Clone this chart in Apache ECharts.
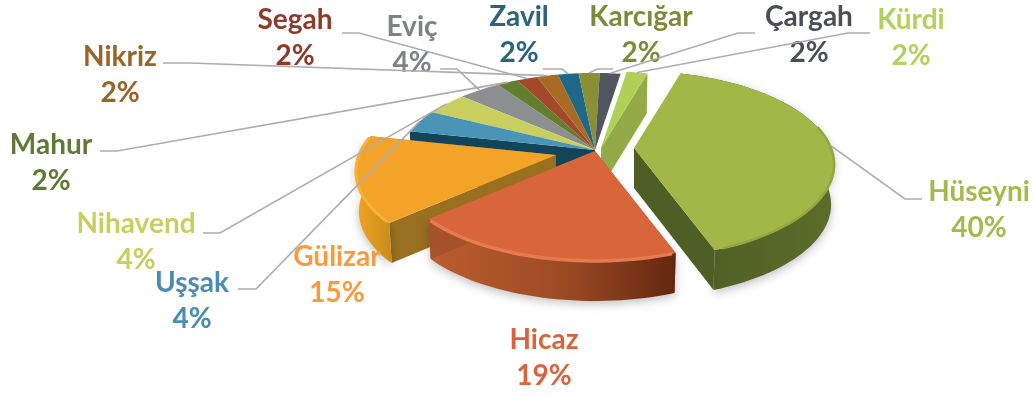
<!DOCTYPE html>
<html><head><meta charset="utf-8">
<script src="https://cdn.jsdelivr.net/npm/echarts@6/dist/echarts.min.js"></script>
<style>html,body{margin:0;padding:0;background:#fff}#c{width:1035px;height:397px;filter:blur(.6px)}</style>
</head><body><div id="c"></div>
<script>
// ---- data (clockwise from the first slice) ----
const categories = ['Hüseyni','Hicaz','Gülizar','Uşşak','Nihavend','Eviç','Mahur','Segah','Nikriz','Zavil','Karcığar','Çargah','Kürdi'];
const values = [40,19,15,4,4,4,2,2,2,2,2,2,2];
// ---- colours ----
const topColors  = ['#a3b748','#d9663a','#f3a327','#4a94b7','#c9cf5e','#8c8e90','#647e30','#a3482a','#a96b22','#1f6887','#8a8f34','#50565e','#b0d156'];
const wallColors = ['#4f5e24','#a5522b','#99701f','#134559','#8c9040','#5c5e60','#445620','#6e3018','#754a16','#123f52','#5e6222','#35393f','#93aa46'];
const labelColors= ['#a5b94c','#d9623f','#f89b3c','#4a8db0','#c6cf60','#7f8285','#5f7a34','#8e3a2b','#9a6428','#2a6480','#7f8a38','#4a4f57','#b2d25c'];
// ---- layout ----
const CX=595, CY=150, R=197, RY=90.6, PERSP=0.176, DEPTH=40, START=16;
const explode = {0:[39,-2],1:[0,1],2:[-39,5],12:[6,-2]};
const drawOrder = [5,6,7,8,9,10,11,4,3,12,2,1,0];
const radialWalls = {0:[1],1:[0,1],2:[0,1],3:[0],12:[1]};
const labelPos = {0:[979,210],1:[544,358],2:[337,275],3:[192,301],4:[136,242],5:[412,45],6:[51,163],7:[295,38],8:[120,75],9:[519,35],10:[641,35],11:[809,35],12:[911,38]};
const leaders = {0:[[922,199],[905,199]],3:[[238,289],[256,289]],4:[[203,233],[220,233]],5:[[440,69],[457,69]],6:[[100,151],[117,151]],
  7:[[342,33],[359,33]],8:[[163,63],[190,63]],9:[[543,69],[562,69]],10:[[613,69],[597,69]],11:[[755,33],[738,33]],12:[[870,33],[848,33]]};

const total = values.reduce((a,b)=>a+b,0);
const angles = []; { let a=START; values.forEach(v=>{const e=a+v/total*360;angles.push([a,e]);a=e;}); }
const rad = d=>d*Math.PI/180;
function proj(i,r,deg,z){
  const x=r*Math.sin(rad(deg)), y=-r*Math.cos(rad(deg)), s=1/(1-PERSP*y), o=explode[i]||[0,0];
  const k = z?0.985:1;
  return [CX+o[0]+R*x*s*k, CY+o[1]+RY*y*s+(z?DEPTH:0)];
}
function arc(i,r,a,b,z){ const p=[],n=Math.max(2,Math.ceil(Math.abs(b-a)/2)); for(let t=0;t<=n;t++)p.push(proj(i,r,a+(b-a)*t/n,z)); return p; }

function renderSlice(params,api){
  const i=api.value(0), a=angles[i][0], b=angles[i][1], top=topColors[i], wall=wallColors[i];
  const ch=[];
  const radial=(d)=>({type:'polygon',shape:{points:[proj(i,0,d,false),proj(i,1,d,false),proj(i,1,d,true),proj(i,0,d,true)]},style:{fill:wall}});
  const rimTop=arc(i,1,a,b,false), rimBot=arc(i,1,a,b,true);
  let wallFill=wall;
  if(i===1) wallFill=new echarts.graphic.LinearGradient(0,0,1,0,[{offset:0,color:'#bd5c30'},{offset:.55,color:'#9c4a24'},{offset:1,color:'#642710'}]);
  if(i===2) wallFill=new echarts.graphic.LinearGradient(0,0,1,0,[{offset:0,color:'#f0a424'},{offset:1,color:'#c98c1c'}]);
  if(i===0) wallFill=new echarts.graphic.LinearGradient(0,0,1,0,[{offset:0,color:'#4e5c22'},{offset:1,color:'#5c6c2a'}]);
  const big = i<3, rw = radialWalls[i]||[];
  if(rw.includes(0)) ch.push(radial(a));
  if(big) ch.push({type:'polygon',shape:{points:rimTop.concat(rimBot.slice().reverse())},style:{fill:wallFill,shadowBlur:10,shadowColor:'rgba(0,0,0,.25)',shadowOffsetY:3}});
  if(rw.includes(1)) ch.push(radial(b));
  ch.push({type:'polygon',shape:{points:[proj(i,0,0,false)].concat(rimTop)},style:{fill:top}});
  if(i===1) ch.push({type:'polyline',shape:{points:arc(i,1,a+1,b-1,false)},style:{stroke:'#e87a50',lineWidth:3.5,fill:null}});
  if(i===2) ch.push({type:'polyline',shape:{points:arc(i,1,a+1,b-1,false)},style:{stroke:'#f8b234',lineWidth:3,fill:null}});
  if(i===0) ch.push({type:'polyline',shape:{points:arc(i,1,a+60,b-2,false)},style:{stroke:'#93a63f',lineWidth:2.5,fill:null}});
  return {type:'group',children:ch};
}
function renderLabel(params,api){
  const i=api.value(0), c=labelPos[i], ch=[];
  if(leaders[i]){
    const mid=(angles[i][0]+angles[i][1])/2;
    ch.push({type:'polyline',shape:{points:leaders[i].concat([proj(i,1,mid,false)])},style:{stroke:'#adadad',lineWidth:1.7,fill:null}});
  }
  ch.push({type:'text',style:{text:categories[i]+'\n'+api.value(1)+'%',x:c[0],y:c[1],align:'center',verticalAlign:'middle',lineHeight:36,fontFamily:'Lato',fontWeight:'bold',fontSize:28,fill:labelColors[i]}});
  return {type:'group',children:ch};
}
const chart=echarts.init(document.getElementById('c'),null,{renderer:'canvas'});
chart.setOption({animation:false,backgroundColor:'#fff',
  series:[
    {type:'custom',coordinateSystem:'none',z:2,renderItem:renderSlice,data:drawOrder.map(i=>[i,values[i]]),silent:true},
    {type:'custom',coordinateSystem:'none',z:3,renderItem:renderLabel,data:values.map((v,i)=>[i,v]),silent:true}
  ]});
</script></body></html>
